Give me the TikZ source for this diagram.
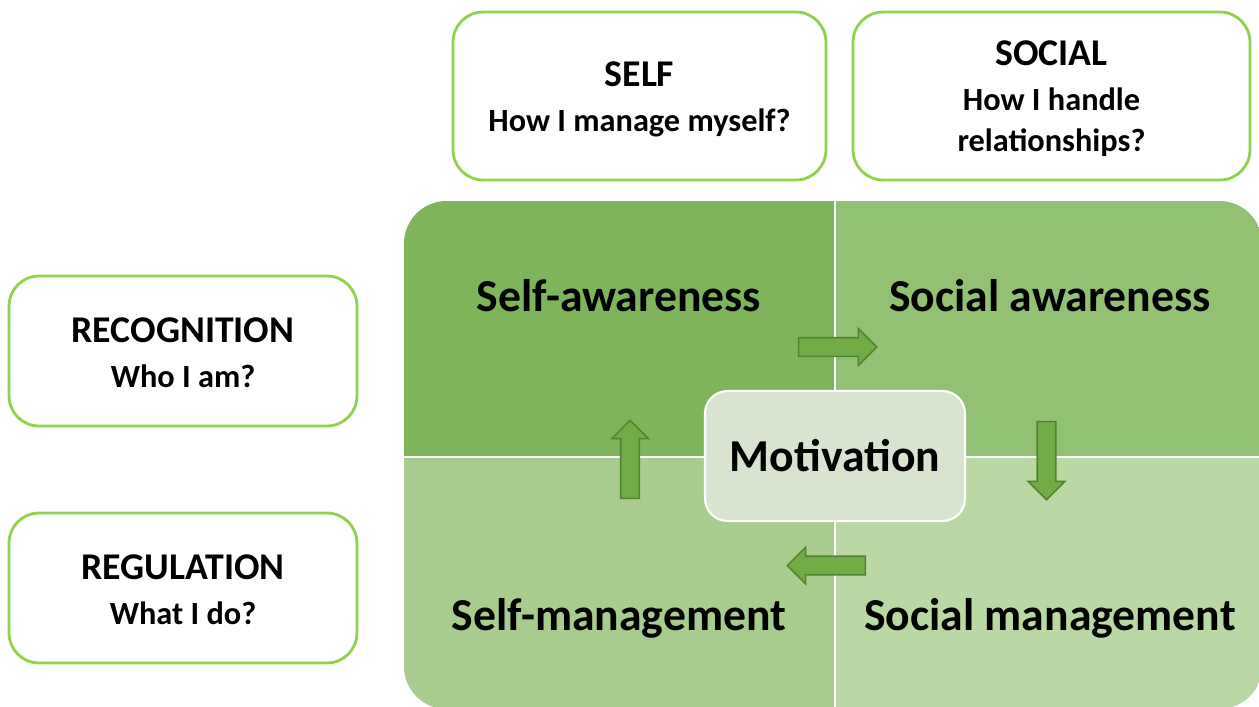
\documentclass[tikz,border=0pt]{standalone}
\usepackage{fontspec}
\setmainfont{Carlito}
\usetikzlibrary{shapes.arrows}
\definecolor{qdark}{HTML}{7EB55B}
\definecolor{qmid}{HTML}{93C173}
\definecolor{qlight}{HTML}{A8CC8D}
\definecolor{qpale}{HTML}{B9D8A3}
\definecolor{mfill}{HTML}{D8E4D0}
\definecolor{lgreen}{HTML}{92D050}
\definecolor{agreen}{HTML}{70AD47}
\definecolor{agreendark}{HTML}{548235}

\begin{document}
\begin{tikzpicture}[x=0.02cm, y=-0.02cm,
    every node/.style={font=\bfseries, align=center, inner sep=0pt},
    headbox/.style={draw=lgreen, line width=1.6pt, rounded corners=0.6cm, fill=white},
    headtext/.style={font=\bfseries\fontsize{18.4}{23.5}\selectfont},
    quadlabel/.style={font=\bfseries\fontsize{26}{30}\selectfont},
    blockarrow/.style={single arrow, draw=agreendark, fill=agreen, line width=0.9pt,
        inner xsep=0pt, inner ysep=0.17cm, minimum width=0.7cm,
        single arrow head extend=0.18cm, minimum height=1.56cm}]
    \useasboundingbox (0,0) rectangle (1259,707);

    % four quadrants inside one rounded frame
    \begin{scope}
      \clip[rounded corners=0.85cm] (404,201) rectangle (1262,709);
      \fill[qdark]  (404,201) rectangle (835,457);
      \fill[qmid]   (835,201) rectangle (1262,457);
      \fill[qlight] (404,457) rectangle (835,709);
      \fill[qpale]  (835,457) rectangle (1262,709);
      \draw[white, line width=1.7pt] (835,201) -- (835,709);
      \draw[white, line width=1.7pt] (404,457) -- (1262,457);
    \end{scope}

    \node[quadlabel] (saw) at (619,296) {Self-awareness};
    \node[quadlabel] (soaw) at (1050,296) {Social awareness};
    \node[quadlabel] (smg) at (619,618) {Self-management};
    \node[quadlabel] (somg) at (1050,618) {Social management};

    \node[draw=white, line width=1.2pt, fill=mfill, rounded corners=0.45cm,
          minimum width=5.2cm, minimum height=2.6cm,
          font=\bfseries\fontsize{26}{30}\selectfont] (mot) at (835,456) {Motivation};

    % arrows going round the centre
    \node[blockarrow] (arr) at (833,347) {};
    \node[blockarrow, rotate=-90] (ard) at (1046.5,456) {};
    \node[blockarrow, rotate=180] (arl) at (831,565.5) {};
    \node[blockarrow, rotate=90] (aru) at (630,464) {};

    % headings: box first, text a little lower on top
    \node[headbox, minimum width=7.46cm, minimum height=3.36cm] (self) at (639.5,96) {};
    \node[headtext] (selft) at (639.5,99)
      {{\fontsize{21.5}{23.5}\selectfont SELF}\\[2pt]
       How I manage myself?};
    \node[headbox, minimum width=7.94cm, minimum height=3.36cm] (social) at (1051.5,96) {};
    \node[headtext] (socialt) at (1051.5,99)
      {{\fontsize{21.5}{23.5}\selectfont SOCIAL}\\[2pt]
       How I handle\\
       relationships?};
    \node[headbox, minimum width=6.96cm, minimum height=3cm] (recog) at (183,351) {};
    \node[headtext] (recogt) at (183,353)
      {{\fontsize{21.5}{23.5}\selectfont RECOGNITION}\\[2pt]
       Who I am?};
    \node[headbox, minimum width=6.96cm, minimum height=3cm] (regul) at (183,588) {};
    \node[headtext] (regult) at (183,590)
      {{\fontsize{21.5}{23.5}\selectfont REGULATION}\\[2pt]
       What I do?};
\end{tikzpicture}
\end{document}
